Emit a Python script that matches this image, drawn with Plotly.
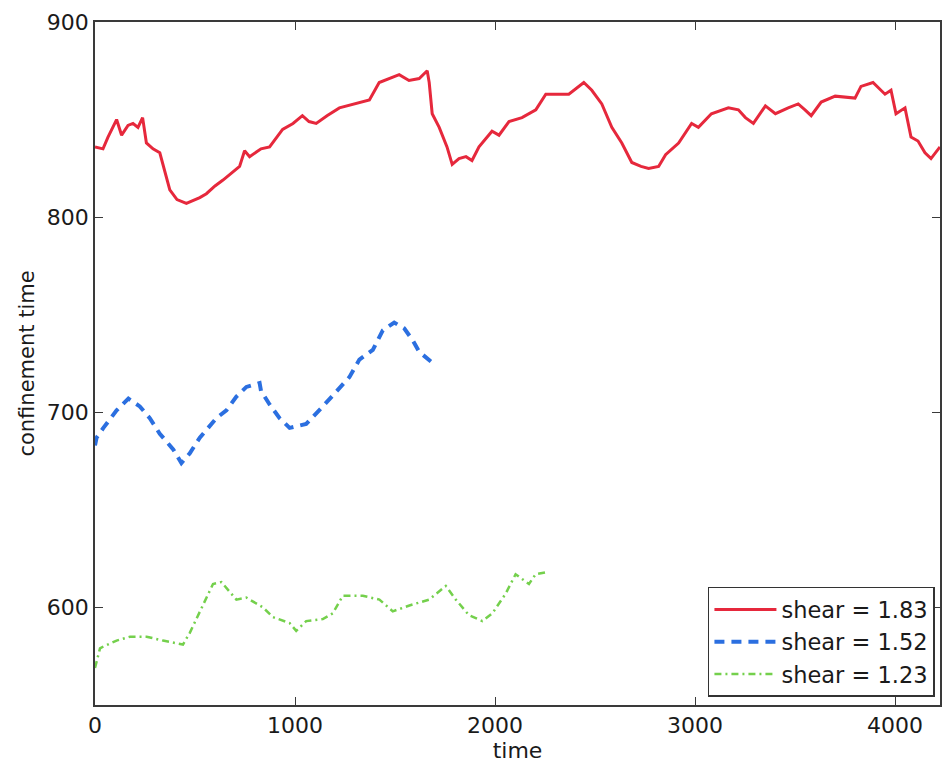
import plotly.graph_objects as go

# Series data
red_x = [0, 40, 65, 108, 133, 165, 190, 215, 238, 257, 290, 324, 374, 410, 457, 524, 557, 600, 640, 690, 723, 748, 773, 830, 873,
         938, 990, 1037, 1070, 1106, 1160, 1222, 1300, 1372, 1421, 1470, 1521, 1570, 1621, 1661, 1671, 1686, 1721, 1760, 1786,
         1820, 1855, 1885, 1920, 1985, 2020, 2070, 2135, 2204, 2254, 2304, 2369, 2444, 2484, 2534, 2584, 2634, 2684,
         2730, 2768, 2818, 2853, 2918, 2983, 3017, 3082, 3167, 3217, 3252, 3292, 3352, 3402, 3466, 3516, 3550, 3581,
         3631, 3701, 3800, 3830, 3890, 3950, 3980, 4005, 4050, 4080, 4115, 4150, 4180, 4225]
red_y = [836, 835, 841, 850, 842, 847, 848, 846, 851, 838, 835, 833, 814, 809, 807, 810, 812, 816, 819, 823, 826, 834, 831, 835, 836,
         845, 848, 852, 849, 848, 852, 856, 858, 860, 869, 871, 873, 870, 871, 875, 869, 853, 846, 836, 827,
         830, 831, 829, 836, 844, 842, 849, 851, 855, 863, 863, 863, 869, 865, 858, 846, 838, 828,
         826, 825, 826, 832, 838, 848, 846, 853, 856, 855, 851, 848, 857, 853, 856, 858, 855, 852,
         859, 862, 861, 867, 869, 863, 865, 853, 856, 841, 839, 833, 830, 836]

blue_x = [0, 8, 42, 108, 167, 224, 274, 324, 391, 432, 474, 524, 607, 657, 707, 757, 823, 830, 873, 923, 973, 1056, 1139, 1207,
          1272, 1322, 1389, 1439, 1496, 1546, 1588, 1621, 1680]
blue_y = [683, 687, 692, 701, 707, 703, 697, 689, 681, 674, 679, 687, 697, 701, 708, 713, 715, 711, 704, 697, 692, 694, 703, 711,
          718, 727, 732, 742, 746, 743, 737, 731, 726]

green_x = [0, 25, 42, 108, 175, 258, 340, 440, 474, 524, 590, 632, 707, 757, 840, 890, 973, 1006, 1056, 1139, 1189, 1239, 1339,
           1422, 1489, 1572, 1671, 1754, 1804, 1870, 1937, 1987, 2053, 2103, 2170, 2203, 2253]
green_y = [569, 579, 580, 583, 585, 585, 583, 581, 587, 598, 612, 613, 604, 605, 600, 595, 592, 588, 593, 594, 597, 606, 606,
           604, 598, 601, 604, 611, 604, 596, 593, 597, 607, 617, 612, 617, 618]

names = ["shear = 1.83", "shear = 1.52", "shear = 1.23"]
x_ticks = [0, 1000, 2000, 3000, 4000]
y_ticks = [600, 700, 800, 900]

FONT = "DejaVu Sans, Liberation Sans, Arial, sans-serif"
TXT = "#1a1a1a"
AX = "#3a3a3a"

fig = go.Figure()
fig.add_trace(go.Scatter(x=red_x, y=red_y, mode="lines", name=names[0],
                         line=dict(color="#e6283c", width=3)))
fig.add_trace(go.Scatter(x=blue_x, y=blue_y, mode="lines", name=names[1],
                         line=dict(color="#2b6fe0", width=4, dash="10px,7px")))
fig.add_trace(go.Scatter(x=green_x, y=green_y, mode="lines", name=names[2],
                         line=dict(color="#74d04c", width=2.5, dash="7px,4px,2px,4px")))

fig.update_layout(
    width=942, height=768,
    margin=dict(l=95, r=0, t=22, b=63),
    paper_bgcolor="white", plot_bgcolor="white",
    font=dict(family=FONT, size=22, color=TXT),
    showlegend=True,
    legend=dict(x=0.994, xanchor="right", y=0.012, yanchor="bottom",
                bgcolor="white", bordercolor="#333", borderwidth=1.5,
                font=dict(size=22.5, color=TXT), tracegroupgap=0, itemwidth=62),
)
fig.update_xaxes(range=[0, 4225], tickvals=x_ticks, ticktext=[str(v) for v in x_ticks],
                 ticks="inside", ticklen=8, tickcolor=AX, showline=True, linecolor=AX, linewidth=1.5,
                 mirror="ticks", showgrid=False, zeroline=False,
                 title=dict(text="time", standoff=4, font=dict(size=22)))
fig.update_yaxes(range=[550, 900], tickvals=y_ticks, ticktext=[str(v) for v in y_ticks],
                 ticks="inside", ticklen=8, tickcolor=AX, showline=True, linecolor=AX, linewidth=1.5,
                 mirror="ticks", showgrid=False, zeroline=False,
                 title=dict(text="confinement time", standoff=6, font=dict(size=21)))

fig.write_html("out.html")
